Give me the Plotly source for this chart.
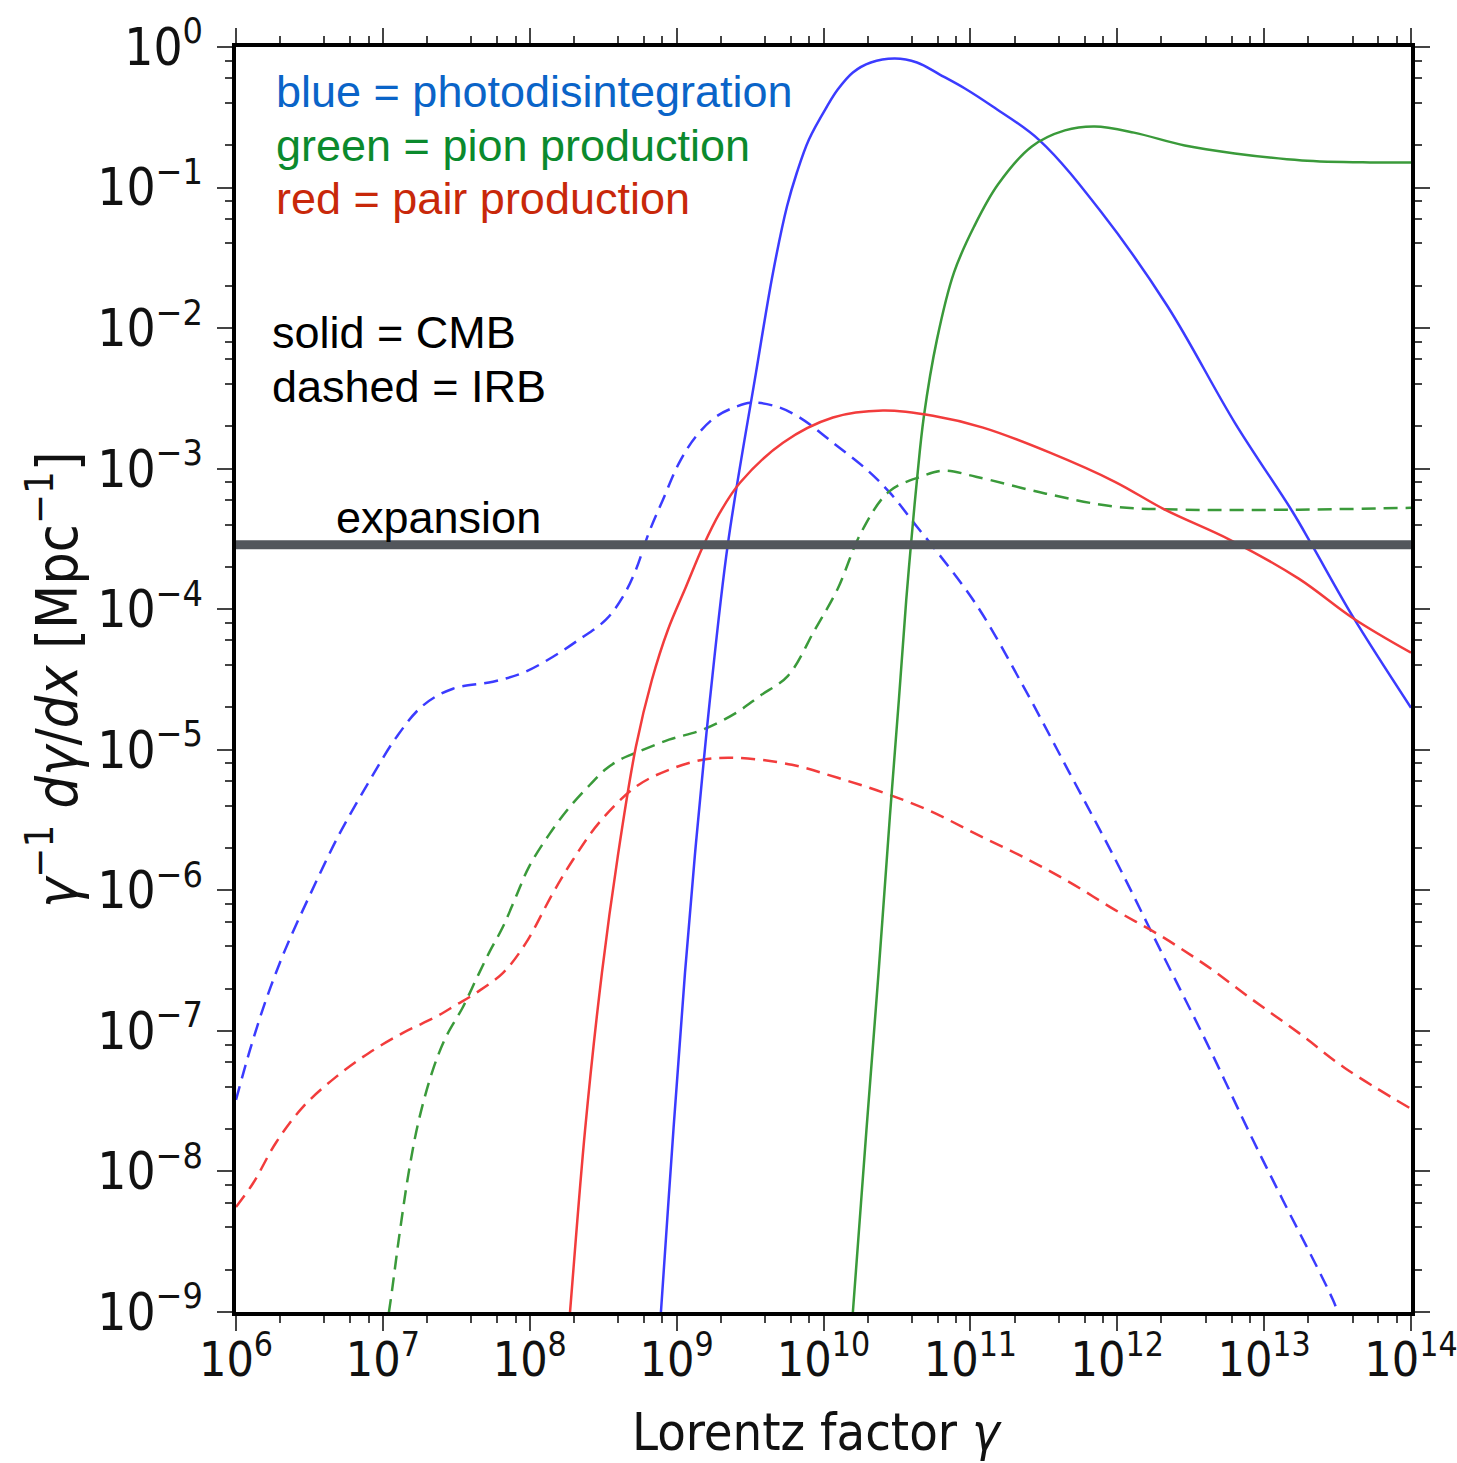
import plotly.graph_objects as go

# Energy-loss rates gamma^-1 dgamma/dx [Mpc^-1] versus Lorentz factor

# photodisintegration on the CMB
pd_cmb_gamma = [7.11e8, 7.82e8, 9.51e8, 1.14e9, 1.33e9, 1.535e9, 1.685e9, 2.23e9, 3.47e9,
                4.53e9, 5.64e9, 6.59e9, 7.96e9, 1.055e10, 1.25e10, 1.585e10, 2.10e10, 3.06e10,
                4.33e10, 6.19e10, 9.18e10, 1.42e11, 2.97e11, 7.73e11, 2.21e12, 6.32e12, 1.55e13,
                2.11e13, 4.02e13, 1.0e14]
pd_cmb_rate = [2.37e-10, 1.0e-9, 1.97e-8, 2.59e-7, 1.76e-6, 8.63e-6, 2.27e-5, 2.88e-4, 4.82e-3,
               2.48e-2, 7.33e-2, 0.128, 0.22, 0.377, 0.498, 0.659, 0.776, 0.828,
               0.776, 0.637, 0.507, 0.377, 0.216, 6.75e-2, 1.42e-2, 2.12e-3, 5.0e-4,
               2.88e-4, 8.85e-5, 1.99e-5]

# pion production on the CMB
pi_cmb_gamma = [1.42e10, 1.585e10, 1.96e10, 2.37e10, 2.83e10, 3.26e10, 3.66e10, 3.94e10, 4.33e10,
                4.82e10, 5.92e10, 7.73e10, 1.06e11, 1.54e11, 2.62e11, 4.40e11, 7.03e11, 1.30e12,
                2.88e12, 6.32e12, 1.81e13, 5.25e13, 1.0e14]
pi_cmb_rate = [2.37e-10, 1.0e-9, 1.97e-8, 2.59e-7, 3.34e-6, 2.27e-5, 1.17e-4, 2.88e-4, 8.35e-4,
               2.34e-3, 8.28e-3, 2.48e-2, 5.28e-2, 0.105, 0.196, 0.255, 0.272, 0.246,
               0.199, 0.175, 0.156, 0.151, 0.151]

# pair production on the CMB
pp_cmb_gamma = [1.68e8, 1.88e8, 2.38e8, 3.10e8, 3.98e8, 5.28e8, 6.79e8, 8.73e8, 1.16e9, 1.51e9,
                1.97e9, 2.70e9, 5.30e9, 1.16e10, 2.54e10, 5.56e10, 1.22e11, 3.48e11, 9.64e11,
                2.11e12, 5.85e12, 1.72e13, 4.08e13, 1.0e14]
pp_cmb_rate = [2.37e-10, 1.0e-9, 1.97e-8, 2.59e-7, 1.76e-6, 1.05e-5, 3.15e-5, 7.15e-5, 1.45e-4, 2.79e-4,
               4.86e-4, 7.94e-4, 1.53e-3, 2.31e-3, 2.59e-3, 2.38e-3, 1.96e-3, 1.30e-3, 8.07e-4,
               5.11e-4, 3.12e-4, 1.65e-4, 8.55e-5, 4.90e-5]

# photodisintegration on the IRB
pd_irb_gamma = [1.0e6, 1.245e6, 1.60e6, 2.16e6, 3.19e6, 5.02e6, 8.04e6, 1.23e7, 1.87e7, 3.00e7,
                5.62e7, 9.00e7, 1.44e8, 2.16e8, 3.30e8, 4.31e8, 5.28e8, 6.47e8,
                8.07e8, 1.04e9, 1.35e9, 1.85e9, 2.54e9, 3.21e9, 4.82e9, 6.90e9, 1.16e10, 1.97e10,
                2.83e10, 4.33e10, 5.30e10, 1.09e11, 2.28e11, 4.69e11, 9.64e11, 1.98e12, 4.07e12,
                8.38e12, 1.34e13, 2.94e13, 3.54e13]
pd_irb_rate = [3.23e-8, 7.32e-8, 1.66e-7, 3.77e-7, 9.29e-7, 2.48e-6, 5.92e-6, 1.22e-5, 2.06e-5, 2.72e-5,
               3.05e-5, 3.53e-5, 4.59e-5, 6.07e-5, 8.42e-5, 1.23e-4, 1.91e-4, 3.50e-4,
               6.01e-4, 1.10e-3, 1.69e-3, 2.34e-3, 2.76e-3, 2.95e-3, 2.76e-3, 2.31e-3, 1.53e-3, 9.84e-4,
               6.75e-4, 3.86e-4, 2.97e-4, 1.09e-4, 2.86e-5, 6.97e-6, 1.68e-6, 3.71e-7, 8.22e-8,
               1.68e-8, 6.27e-9, 1.22e-9, 7.4e-10]

# pion production on the IRB
pi_irb_gamma = [8.69e6, 1.10e7, 1.29e7, 1.51e7, 1.76e7, 2.19e7, 2.69e7, 3.51e7, 4.30e7, 5.28e7,
                6.57e7, 8.05e7, 9.88e7, 1.35e8, 1.85e8, 2.57e8, 3.25e8, 4.11e8, 5.28e8, 8.87e8,
                1.51e9, 2.54e9, 3.69e9, 5.73e9, 8.73e9, 1.25e10, 1.80e10, 2.79e10, 4.60e10,
                6.61e10, 1.09e11, 3.27e11, 9.64e11, 2.84e12, 1.72e13, 1.0e14]
pi_irb_rate = [2.37e-10, 1.0e-9, 3.42e-9, 1.03e-8, 2.33e-8, 5.28e-8, 9.06e-8, 1.48e-7, 2.31e-7, 3.59e-7,
               5.50e-7, 8.99e-7, 1.47e-6, 2.48e-6, 3.86e-6, 5.64e-6, 7.21e-6, 8.49e-6, 9.52e-6, 1.18e-5,
               1.39e-5, 1.83e-5, 2.42e-5, 3.36e-5, 7.15e-5, 1.40e-4, 3.50e-4, 6.86e-4, 8.77e-4,
               9.68e-4, 8.77e-4, 6.64e-4, 5.37e-4, 5.11e-4, 5.11e-4, 5.27e-4]

# pair production on the IRB
pp_irb_gamma = [1.0e6, 1.31e6, 1.87e6, 2.86e6, 4.80e6, 8.04e6, 1.37e7, 2.30e7, 3.15e7, 4.30e7,
                6.58e7, 9.42e7, 1.44e8, 1.97e8, 2.96e8, 5.28e8, 8.87e8, 1.51e9, 2.54e9, 6.10e9,
                1.25e10, 2.58e10, 5.30e10, 1.09e11, 2.28e11, 4.69e11, 9.64e11, 1.98e12, 4.07e12,
                8.38e12, 1.72e13, 3.54e13, 1.0e14]
pp_irb_rate = [5.59e-9, 8.28e-9, 1.60e-8, 2.88e-8, 4.71e-8, 6.97e-8, 9.68e-8, 1.26e-7, 1.53e-7, 1.86e-7,
               2.59e-7, 4.23e-7, 9.59e-7, 1.65e-6, 3.02e-6, 5.46e-6, 7.21e-6, 8.49e-6, 8.77e-6, 7.82e-6,
               6.32e-6, 4.94e-6, 3.68e-6, 2.52e-6, 1.73e-6, 1.15e-6, 7.26e-7, 4.74e-7, 2.90e-7,
               1.66e-7, 9.68e-8, 5.45e-8, 2.79e-8]

# adiabatic (expansion) loss rate
expansion_gamma = [1.0e6, 1.0e14]
expansion_rate = [2.88e-4, 2.88e-4]

x_tick_exps = [6, 7, 8, 9, 10, 11, 12, 13, 14]
y_tick_exps = [0, -1, -2, -3, -4, -5, -6, -7, -8, -9]

BLUE = "#3b3bff"
GREEN = "#3a9a3a"
RED = "#f23c3c"
DASH = "14px,8px"

fig = go.Figure()

def add_curve(x, y, color, dash):
    fig.add_trace(go.Scatter(
        x=x, y=y, mode="lines",
        line=dict(color=color, width=2.5, dash=dash, shape="spline", smoothing=1.0),
        hoverinfo="skip", showlegend=False))

add_curve(pd_irb_gamma, pd_irb_rate, BLUE, DASH)
add_curve(pi_irb_gamma, pi_irb_rate, GREEN, DASH)
add_curve(pp_irb_gamma, pp_irb_rate, RED, DASH)
add_curve(pd_cmb_gamma, pd_cmb_rate, BLUE, "solid")
add_curve(pi_cmb_gamma, pi_cmb_rate, GREEN, "solid")
add_curve(pp_cmb_gamma, pp_cmb_rate, RED, "solid")

fig.add_trace(go.Scatter(
    x=expansion_gamma, y=expansion_rate, mode="lines",
    line=dict(color="#52565c", width=9),
    hoverinfo="skip", showlegend=False))

MINUS = "\u2212"

def pow10_label(e):
    s = str(e).replace("-", MINUS)
    return f"10<sup>{s}</sup>"

def minor_vals(lo, hi):
    vals = []
    for e in range(lo, hi):
        for k in (2, 4, 6, 8):
            vals.append(k * 10.0 ** e)
    return vals

FAMILY = "DejaVu Sans Condensed, DejaVu Sans, sans-serif"
XTICK_FONT = dict(family=FAMILY, size=48, color="#111111")
YTICK_FONT = dict(family=FAMILY, size=51, color="#111111")
TITLE_FONT = dict(family=FAMILY, size=52, color="#111111")
YTITLE_FONT = dict(family=FAMILY, size=57, color="#111111")

axis_common = dict(
    showline=True, linecolor="black", linewidth=3.5, mirror="allticks",
    ticks="outside", ticklen=15, tickwidth=1.5, tickcolor="#444444",
    showgrid=False, zeroline=False, ticklabeloverflow="allow",
)

fig.update_xaxes(
    type="log", range=[6, 14],
    tickvals=[10.0 ** e for e in x_tick_exps],
    ticktext=[pow10_label(e) for e in x_tick_exps],
    tickfont=XTICK_FONT,
    minor=dict(tickvals=minor_vals(6, 14), ticks="outside", ticklen=7,
               tickwidth=1.5, tickcolor="#444444", showgrid=False),
    ticklabelstandoff=-12,
    **axis_common)
fig.update_yaxes(
    type="log", range=[-9, 0],
    tickvals=[10.0 ** e for e in y_tick_exps],
    ticktext=[pow10_label(e) for e in y_tick_exps],
    tickfont=YTICK_FONT,
    minor=dict(tickvals=minor_vals(-9, 0), ticks="outside", ticklen=7,
               tickwidth=1.5, tickcolor="#444444", showgrid=False),
    ticklabelstandoff=4,
    **axis_common)

L, R, T, B = 236, 46, 47, 151
W, H = 1457, 1463
PW, PH = W - L - R, H - T - B

def px(xpix):
    return (xpix - L) / PW

def py(ypix):
    return (H - B - ypix) / PH

TEXT_FONT = "Liberation Sans, Arial, sans-serif"
notes = [
    ("blue = photodisintegration", 274, 91, "#0a64c8"),
    ("green = pion production", 274, 145, "#0b8a2d"),
    ("red = pair production", 274, 199, "#c8280a"),
    ("solid = CMB", 270, 332, "black"),
    ("dashed = IRB", 270, 386, "black"),
    ("expansion", 334, 517, "black"),
]
for text, xp, yp, col in notes:
    fig.add_annotation(x=px(xp), y=py(yp), xref="paper", yref="paper",
                       text=text, showarrow=False, xanchor="left", yanchor="middle",
                       font=dict(family=TEXT_FONT, size=45, color=col))

fig.add_annotation(x=px(53), y=py(680), xref="paper", yref="paper",
                   text="<i>γ</i><sup>" + MINUS + "1</sup> <i>dγ</i>/<i>dx</i> [Mpc<sup>" + MINUS + "1</sup>]",
                   textangle=-90, showarrow=False, xanchor="center", yanchor="middle",
                   font=YTITLE_FONT)
fig.add_annotation(x=px(817), y=py(1432), xref="paper", yref="paper",
                   text="Lorentz factor <i>γ</i>", showarrow=False,
                   xanchor="center", yanchor="middle", font=TITLE_FONT)

fig.update_layout(
    width=W, height=H,
    margin=dict(l=L, r=R, t=T, b=B, autoexpand=False),
    paper_bgcolor="white", plot_bgcolor="white",
)

fig.write_html("out.html")
